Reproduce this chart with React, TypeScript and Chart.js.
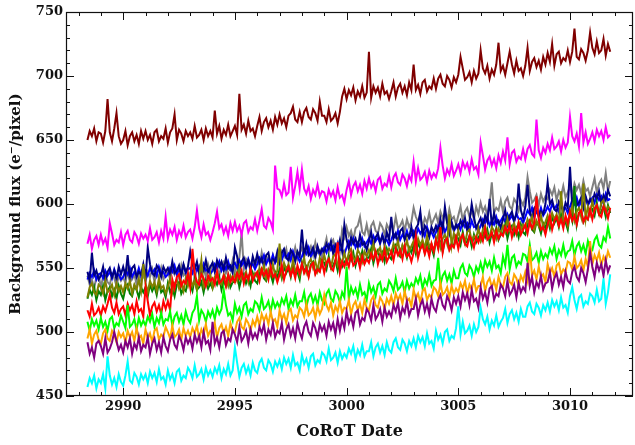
import React, { useEffect, useRef } from "react";
import { Chart, registerables } from "chart.js";

Chart.register(...registerables);

// Observation times (CoRoT date), one sample every 0.1 d
const DATES = [
  2988.4, 2988.5, 2988.6, 2988.7, 2988.8, 2988.9,
  2989.0, 2989.1, 2989.2, 2989.3, 2989.4, 2989.5, 2989.6, 2989.7, 2989.8, 2989.9,
  2990.0, 2990.1, 2990.2, 2990.3, 2990.4, 2990.5, 2990.6, 2990.7, 2990.8, 2990.9,
  2991.0, 2991.1, 2991.2, 2991.3, 2991.4, 2991.5, 2991.6, 2991.7, 2991.8, 2991.9,
  2992.0, 2992.1, 2992.2, 2992.3, 2992.4, 2992.5, 2992.6, 2992.7, 2992.8, 2992.9,
  2993.0, 2993.1, 2993.2, 2993.3, 2993.4, 2993.5, 2993.6, 2993.7, 2993.8, 2993.9,
  2994.0, 2994.1, 2994.2, 2994.3, 2994.4, 2994.5, 2994.6, 2994.7, 2994.8, 2994.9,
  2995.0, 2995.1, 2995.2, 2995.3, 2995.4, 2995.5, 2995.6, 2995.7, 2995.8, 2995.9,
  2996.0, 2996.1, 2996.2, 2996.3, 2996.4, 2996.5, 2996.6, 2996.7, 2996.8, 2996.9,
  2997.0, 2997.1, 2997.2, 2997.3, 2997.4, 2997.5, 2997.6, 2997.7, 2997.8, 2997.9,
  2998.0, 2998.1, 2998.2, 2998.3, 2998.4, 2998.5, 2998.6, 2998.7, 2998.8, 2998.9,
  2999.0, 2999.1, 2999.2, 2999.3, 2999.4, 2999.5, 2999.6, 2999.7, 2999.8, 2999.9,
  3000.0, 3000.1, 3000.2, 3000.3, 3000.4, 3000.5, 3000.6, 3000.7, 3000.8, 3000.9,
  3001.0, 3001.1, 3001.2, 3001.3, 3001.4, 3001.5, 3001.6, 3001.7, 3001.8, 3001.9,
  3002.0, 3002.1, 3002.2, 3002.3, 3002.4, 3002.5, 3002.6, 3002.7, 3002.8, 3002.9,
  3003.0, 3003.1, 3003.2, 3003.3, 3003.4, 3003.5, 3003.6, 3003.7, 3003.8, 3003.9,
  3004.0, 3004.1, 3004.2, 3004.3, 3004.4, 3004.5, 3004.6, 3004.7, 3004.8, 3004.9,
  3005.0, 3005.1, 3005.2, 3005.3, 3005.4, 3005.5, 3005.6, 3005.7, 3005.8, 3005.9,
  3006.0, 3006.1, 3006.2, 3006.3, 3006.4, 3006.5, 3006.6, 3006.7, 3006.8, 3006.9,
  3007.0, 3007.1, 3007.2, 3007.3, 3007.4, 3007.5, 3007.6, 3007.7, 3007.8, 3007.9,
  3008.0, 3008.1, 3008.2, 3008.3, 3008.4, 3008.5, 3008.6, 3008.7, 3008.8, 3008.9,
  3009.0, 3009.1, 3009.2, 3009.3, 3009.4, 3009.5, 3009.6, 3009.7, 3009.8, 3009.9,
  3010.0, 3010.1, 3010.2, 3010.3, 3010.4, 3010.5, 3010.6, 3010.7, 3010.8, 3010.9,
  3011.0, 3011.1, 3011.2, 3011.3, 3011.4, 3011.5, 3011.6, 3011.7, 3011.8,
];

// Background flux per target (e-/pixel), one row per day
const FLUX_MAROON = [
  650, 657, 653, 659, 649, 656,
  655, 648, 657, 682, 656, 649, 659, 671, 653, 647,
  650, 657, 646, 653, 656, 649, 654, 647, 657, 651,
  657, 650, 654, 647, 656, 658, 649, 653, 651, 659,
  648, 656, 659, 670, 650, 658, 655, 649, 657, 653,
  656, 651, 661, 652, 654, 658, 650, 659, 653, 657,
  652, 673, 655, 661, 651, 658, 654, 662, 653, 657,
  661, 654, 686, 658, 662, 655, 665, 657, 659, 653,
  661, 668, 657, 664, 667, 660, 665, 658, 668, 662,
  670, 663, 667, 660, 669, 671, 676, 666, 664, 672,
  664, 672, 675, 668, 666, 674, 671, 665, 680, 669,
  669, 664, 674, 665, 667, 671, 663, 672, 684, 690,
  682, 689, 685, 691, 681, 688, 684, 692, 683, 687,
  719, 683, 692, 687, 691, 684, 694, 686, 688, 682,
  688, 695, 684, 691, 694, 687, 692, 685, 695, 689,
  709, 689, 693, 686, 695, 697, 688, 692, 690, 698,
  690, 698, 701, 694, 692, 700, 697, 691, 699, 695,
  701, 715, 706, 697, 699, 703, 695, 704, 698, 702,
  720, 706, 702, 708, 698, 705, 701, 709, 726, 704,
  708, 701, 710, 719, 709, 702, 712, 704, 706, 700,
  708, 722, 704, 711, 714, 707, 712, 705, 715, 709,
  718, 711, 725, 708, 717, 719, 710, 714, 712, 720,
  711, 719, 737, 715, 713, 721, 718, 712, 720, 734,
  722, 717, 727, 718, 720, 729, 716, 725, 719,
];

const FLUX_MAGENTA = [
  569, 576, 565, 572, 575, 568,
  576, 569, 573, 566, 585, 577, 568, 572, 570, 578,
  568, 576, 579, 572, 570, 578, 575, 569, 577, 573,
  576, 571, 581, 572, 574, 578, 570, 579, 573, 590,
  573, 580, 576, 582, 572, 579, 575, 583, 574, 578,
  580, 573, 582, 595, 581, 574, 584, 576, 578, 572,
  578, 585, 594, 581, 584, 577, 582, 575, 585, 579,
  586, 579, 583, 576, 585, 587, 578, 582, 580, 588,
  579, 587, 596, 583, 581, 589, 586, 580, 630, 612,
  611, 606, 616, 607, 609, 629, 605, 614, 625, 612,
  627, 612, 608, 614, 604, 611, 607, 615, 606, 610,
  609, 602, 611, 606, 610, 603, 613, 605, 607, 601,
  611, 618, 607, 614, 617, 610, 615, 608, 618, 612,
  620, 613, 617, 610, 619, 621, 612, 616, 614, 622,
  613, 621, 624, 617, 615, 623, 620, 614, 622, 618,
  633, 618, 628, 619, 621, 625, 617, 626, 620, 624,
  621, 628, 644, 630, 620, 627, 623, 631, 622, 626,
  631, 624, 633, 628, 632, 625, 635, 627, 629, 623,
  648, 638, 627, 634, 637, 630, 635, 628, 638, 632,
  641, 634, 652, 631, 640, 642, 633, 637, 635, 643,
  635, 643, 646, 639, 637, 666, 642, 636, 644, 640,
  647, 642, 652, 643, 645, 649, 641, 650, 644, 648,
  668, 653, 649, 655, 645, 671, 648, 656, 647, 651,
  656, 649, 658, 653, 657, 650, 660, 652, 654,
];

const FLUX_CYAN = [
  457, 464, 460, 466, 456, 463,
  460, 467, 456, 481, 466, 459, 464, 457, 467, 461,
  458, 466, 477, 462, 460, 468, 465, 459, 467, 463,
  467, 460, 469, 464, 468, 461, 471, 463, 465, 459,
  470, 463, 467, 460, 469, 471, 462, 466, 464, 472,
  469, 464, 474, 465, 467, 471, 463, 472, 466, 470,
  465, 472, 468, 474, 464, 471, 467, 475, 466, 470,
  488, 476, 465, 472, 475, 468, 473, 466, 476, 470,
  468, 476, 479, 472, 470, 478, 475, 469, 477, 473,
  478, 471, 480, 475, 479, 472, 482, 474, 476, 470,
  482, 475, 479, 472, 481, 483, 474, 478, 476, 484,
  482, 477, 487, 478, 480, 484, 476, 485, 479, 483,
  480, 487, 483, 489, 479, 486, 482, 490, 481, 485,
  485, 492, 481, 488, 491, 484, 489, 482, 492, 486,
  484, 492, 495, 488, 486, 494, 491, 485, 493, 489,
  495, 488, 497, 492, 496, 489, 499, 491, 493, 487,
  501, 494, 498, 491, 500, 502, 493, 497, 495, 503,
  520, 498, 508, 499, 501, 505, 497, 506, 500, 504,
  519, 510, 506, 512, 502, 509, 505, 513, 504, 508,
  511, 518, 507, 514, 517, 510, 515, 508, 518, 512,
  512, 520, 523, 516, 514, 522, 519, 513, 521, 517,
  523, 516, 525, 520, 524, 517, 527, 519, 521, 515,
  528, 535, 525, 518, 527, 529, 520, 524, 522, 530,
  528, 523, 533, 524, 526, 542, 522, 531, 545,
];

const FLUX_PURPLE = [
  492, 483, 488, 480, 491, 493,
  489, 483, 495, 484, 487, 492, 500, 493, 486, 490,
  484, 493, 488, 495, 483, 491, 487, 496, 485, 490,
  488, 496, 483, 491, 495, 486, 492, 484, 496, 489,
  485, 494, 498, 490, 487, 497, 493, 486, 496, 491,
  495, 487, 498, 492, 497, 488, 500, 491, 493, 486,
  508, 491, 496, 488, 499, 501, 490, 495, 493, 502,
  498, 492, 504, 493, 496, 501, 491, 502, 495, 499,
  495, 504, 499, 506, 494, 502, 498, 507, 496, 501,
  499, 507, 494, 502, 506, 497, 503, 495, 507, 500,
  495, 504, 508, 500, 497, 507, 503, 496, 506, 501,
  505, 497, 508, 502, 507, 498, 510, 501, 510, 503,
  516, 507, 512, 504, 515, 517, 506, 511, 509, 518,
  515, 509, 521, 510, 513, 518, 508, 519, 512, 516,
  512, 521, 516, 523, 511, 519, 515, 524, 513, 518,
  518, 526, 513, 521, 525, 516, 522, 514, 526, 519,
  516, 525, 529, 521, 518, 528, 524, 517, 527, 522,
  528, 520, 531, 525, 530, 521, 533, 524, 526, 519,
  535, 526, 531, 523, 534, 536, 525, 530, 528, 537,
  534, 528, 540, 529, 532, 537, 527, 538, 531, 535,
  532, 554, 536, 543, 531, 539, 535, 544, 533, 538,
  539, 547, 534, 542, 546, 537, 543, 535, 547, 540,
  538, 547, 551, 543, 540, 550, 546, 539, 549, 562,
  551, 543, 554, 548, 553, 544, 556, 547, 552,
];

const FLUX_ORANGE = [
  495, 502, 491, 498, 501, 494,
  491, 499, 502, 495, 493, 501, 498, 492, 500, 496,
  499, 492, 501, 496, 500, 493, 503, 495, 497, 491,
  502, 495, 499, 492, 501, 503, 494, 498, 496, 504,
  500, 495, 505, 496, 498, 502, 494, 503, 497, 501,
  496, 503, 499, 505, 495, 502, 498, 506, 497, 501,
  500, 507, 496, 503, 506, 499, 504, 497, 507, 501,
  500, 508, 511, 504, 502, 510, 507, 501, 509, 505,
  512, 505, 514, 509, 513, 506, 516, 508, 510, 504,
  517, 510, 514, 507, 516, 518, 509, 513, 511, 519,
  517, 512, 522, 513, 515, 519, 511, 520, 514, 518,
  529, 521, 517, 523, 513, 520, 516, 524, 515, 519,
  518, 525, 514, 521, 524, 517, 522, 515, 525, 519,
  517, 525, 528, 521, 519, 527, 524, 518, 526, 522,
  528, 521, 530, 525, 529, 522, 532, 524, 526, 520,
  533, 526, 530, 523, 532, 534, 525, 529, 527, 535,
  533, 528, 538, 529, 531, 535, 527, 536, 530, 534,
  531, 538, 534, 540, 530, 537, 533, 541, 532, 536,
  536, 543, 532, 539, 542, 535, 540, 533, 543, 537,
  535, 543, 546, 539, 537, 545, 542, 536, 544, 540,
  547, 540, 567, 544, 548, 541, 551, 543, 545, 539,
  553, 546, 550, 543, 552, 554, 545, 549, 547, 555,
  554, 549, 559, 550, 552, 556, 548, 557, 551, 571,
  553, 560, 556, 562, 552, 559, 555, 563, 558,
];

const FLUX_LIME = [
  508, 501, 510, 505, 509, 502,
  511, 504, 508, 501, 510, 512, 503, 507, 505, 513,
  508, 503, 521, 504, 506, 510, 502, 511, 505, 509,
  505, 512, 508, 514, 504, 511, 507, 515, 506, 510,
  509, 516, 505, 512, 515, 508, 513, 506, 516, 510,
  507, 515, 518, 528, 509, 517, 514, 508, 516, 512,
  517, 510, 519, 514, 518, 533, 521, 513, 515, 509,
  522, 515, 519, 512, 521, 523, 514, 518, 516, 524,
  522, 517, 527, 518, 520, 524, 516, 525, 519, 523,
  519, 526, 522, 528, 518, 525, 521, 529, 520, 524,
  524, 531, 520, 527, 530, 523, 528, 521, 531, 525,
  522, 530, 533, 526, 524, 532, 529, 523, 531, 527,
  551, 526, 535, 530, 534, 527, 537, 529, 531, 525,
  538, 531, 535, 528, 537, 539, 530, 534, 532, 540,
  537, 532, 542, 533, 535, 539, 531, 540, 534, 538,
  535, 542, 538, 544, 534, 541, 537, 545, 536, 540,
  541, 558, 537, 544, 547, 540, 545, 538, 548, 542,
  542, 550, 553, 546, 544, 552, 549, 543, 551, 547,
  554, 547, 556, 551, 555, 548, 558, 550, 552, 546,
  559, 552, 568, 549, 558, 560, 551, 555, 553, 561,
  560, 555, 568, 556, 558, 562, 554, 563, 557, 561,
  558, 565, 561, 567, 557, 564, 560, 568, 559, 563,
  564, 571, 560, 567, 570, 563, 568, 561, 571, 565,
  564, 572, 575, 568, 566, 574, 571, 582, 573,
];

const FLUX_RED = [
  517, 512, 522, 513, 515, 519,
  513, 520, 516, 522, 529, 519, 515, 523, 514, 518,
  520, 513, 522, 517, 521, 514, 524, 516, 518, 512,
  535, 524, 513, 520, 523, 516, 521, 514, 524, 518,
  524, 517, 541, 534, 543, 545, 536, 540, 538, 546,
  535, 565, 546, 539, 537, 545, 542, 536, 544, 540,
  542, 537, 547, 538, 540, 544, 536, 545, 539, 543,
  539, 546, 542, 548, 538, 545, 541, 549, 540, 544,
  547, 540, 549, 544, 548, 541, 551, 543, 545, 539,
  545, 552, 541, 548, 551, 544, 549, 542, 552, 546,
  553, 546, 550, 543, 552, 554, 545, 549, 547, 555,
  546, 554, 557, 550, 548, 556, 570, 547, 555, 551,
  556, 551, 561, 552, 554, 558, 550, 559, 553, 557,
  554, 561, 557, 563, 553, 560, 556, 564, 555, 559,
  563, 556, 565, 560, 564, 557, 567, 559, 561, 555,
  562, 575, 558, 565, 568, 561, 566, 559, 569, 563,
  572, 565, 582, 562, 571, 573, 564, 568, 566, 574,
  565, 573, 576, 569, 567, 575, 572, 566, 574, 570,
  576, 571, 581, 572, 574, 578, 570, 579, 573, 577,
  575, 582, 578, 584, 574, 581, 577, 585, 576, 580,
  584, 577, 586, 581, 585, 606, 588, 580, 582, 576,
  584, 591, 580, 587, 590, 583, 588, 581, 591, 585,
  594, 587, 591, 584, 593, 595, 586, 590, 588, 596,
  588, 596, 599, 592, 590, 598, 595, 589, 597,
];

const FLUX_OLIVE = [
  527, 535, 538, 531, 529, 537,
  535, 530, 540, 531, 533, 537, 529, 538, 532, 536,
  531, 538, 534, 540, 530, 537, 533, 541, 532, 553,
  538, 531, 540, 535, 539, 532, 542, 534, 536, 530,
  535, 542, 531, 538, 541, 534, 539, 532, 542, 536,
  543, 536, 540, 533, 542, 556, 535, 539, 537, 545,
  535, 543, 546, 539, 537, 545, 542, 536, 544, 540,
  545, 540, 550, 541, 543, 547, 539, 548, 542, 546,
  543, 550, 546, 552, 542, 549, 545, 553, 544, 548,
  569, 545, 554, 549, 553, 546, 556, 548, 550, 544,
  551, 558, 547, 554, 557, 550, 555, 548, 558, 552,
  560, 553, 557, 550, 559, 561, 552, 556, 554, 562,
  554, 562, 565, 558, 556, 564, 561, 555, 563, 559,
  564, 559, 569, 560, 562, 566, 558, 567, 561, 565,
  562, 569, 565, 571, 561, 568, 564, 572, 563, 567,
  571, 564, 573, 568, 572, 565, 575, 567, 569, 563,
  570, 577, 566, 573, 576, 569, 592, 567, 577, 571,
  579, 572, 576, 569, 578, 580, 571, 575, 573, 581,
  572, 580, 583, 576, 574, 582, 579, 573, 581, 577,
  583, 578, 588, 579, 581, 585, 577, 586, 580, 584,
  581, 588, 584, 590, 580, 587, 583, 591, 582, 586,
  591, 584, 593, 588, 592, 585, 610, 587, 589, 583,
  591, 598, 587, 594, 597, 590, 616, 588, 598, 592,
  602, 595, 599, 592, 601, 603, 594, 598, 596,
];

const FLUX_GREEN = [
  526, 533, 529, 535, 525, 532,
  529, 536, 525, 532, 535, 528, 533, 526, 536, 530,
  526, 534, 537, 530, 528, 536, 533, 527, 535, 531,
  535, 528, 537, 532, 536, 529, 539, 531, 533, 527,
  538, 531, 535, 528, 537, 539, 530, 534, 532, 540,
  537, 532, 542, 533, 535, 539, 531, 540, 534, 538,
  534, 541, 537, 543, 533, 540, 536, 544, 535, 539,
  539, 546, 535, 542, 545, 538, 543, 536, 546, 540,
  538, 546, 549, 542, 540, 548, 545, 539, 547, 543,
  549, 542, 551, 546, 550, 543, 553, 545, 547, 541,
  554, 547, 551, 544, 553, 555, 546, 550, 548, 556,
  554, 549, 559, 550, 552, 556, 548, 557, 551, 555,
  553, 560, 556, 562, 552, 559, 555, 563, 554, 558,
  558, 565, 554, 561, 564, 557, 562, 555, 565, 559,
  557, 565, 568, 561, 559, 567, 564, 558, 566, 562,
  568, 561, 570, 565, 569, 562, 572, 564, 566, 560,
  573, 566, 570, 563, 572, 574, 565, 569, 567, 575,
  573, 568, 578, 569, 571, 575, 567, 576, 570, 574,
  571, 578, 574, 580, 570, 577, 573, 581, 572, 576,
  577, 584, 573, 580, 583, 576, 581, 574, 584, 578,
  576, 584, 587, 580, 578, 586, 583, 577, 585, 581,
  588, 581, 590, 585, 589, 582, 592, 584, 586, 580,
  594, 587, 614, 584, 593, 595, 586, 590, 588, 596,
  596, 591, 601, 592, 594, 598, 590, 599, 593,
];

const FLUX_NAVY = [
  547, 540, 562, 544, 548, 541,
  544, 551, 540, 547, 550, 543, 548, 541, 551, 545,
  551, 544, 560, 541, 550, 552, 543, 547, 545, 553,
  542, 566, 553, 546, 544, 552, 549, 543, 551, 547,
  550, 545, 555, 546, 548, 552, 544, 553, 547, 551,
  563, 553, 549, 555, 545, 552, 548, 556, 547, 551,
  554, 547, 556, 551, 555, 548, 558, 550, 552, 546,
  566, 559, 548, 555, 558, 551, 556, 549, 559, 553,
  561, 554, 558, 551, 560, 562, 553, 557, 555, 563,
  554, 562, 565, 558, 556, 564, 561, 555, 563, 559,
  580, 559, 569, 560, 562, 566, 558, 567, 561, 565,
  562, 569, 565, 571, 561, 568, 564, 572, 563, 584,
  572, 565, 574, 569, 573, 566, 576, 568, 570, 564,
  571, 578, 567, 574, 577, 570, 575, 568, 578, 572,
  590, 573, 577, 570, 579, 581, 572, 576, 574, 582,
  573, 581, 584, 594, 575, 583, 580, 574, 582, 578,
  583, 578, 588, 579, 598, 585, 577, 586, 580, 584,
  580, 587, 583, 589, 579, 586, 600, 590, 581, 585,
  589, 582, 591, 586, 604, 583, 593, 585, 587, 581,
  588, 595, 584, 591, 594, 587, 592, 616, 595, 589,
  598, 615, 595, 588, 597, 599, 590, 594, 592, 600,
  617, 600, 603, 596, 594, 602, 599, 593, 601, 597,
  629, 598, 608, 599, 601, 605, 597, 606, 600, 604,
  601, 608, 604, 610, 600, 607, 603, 611, 606,
];

const FLUX_BLUE = [
  541, 546, 543, 548, 541, 545,
  546, 542, 548, 544, 547, 542, 549, 544, 545, 541,
  543, 548, 545, 550, 543, 547, 544, 550, 544, 547,
  548, 544, 550, 546, 549, 544, 551, 546, 547, 543,
  545, 550, 547, 552, 545, 549, 546, 552, 546, 549,
  550, 546, 552, 548, 551, 546, 553, 548, 549, 545,
  548, 553, 550, 555, 548, 552, 549, 555, 549, 552,
  554, 550, 556, 552, 555, 550, 557, 552, 553, 549,
  553, 558, 555, 560, 553, 557, 554, 560, 554, 557,
  560, 556, 562, 558, 561, 556, 563, 558, 559, 555,
  559, 564, 561, 566, 559, 563, 560, 566, 560, 563,
  566, 562, 568, 564, 567, 562, 569, 564, 565, 561,
  566, 571, 568, 573, 566, 570, 567, 573, 567, 570,
  573, 569, 575, 571, 574, 569, 576, 571, 572, 568,
  572, 577, 574, 579, 572, 576, 573, 579, 573, 576,
  579, 575, 581, 577, 580, 575, 582, 577, 578, 574,
  578, 583, 580, 585, 578, 582, 579, 585, 579, 582,
  584, 580, 586, 582, 585, 580, 587, 582, 583, 579,
  583, 588, 585, 590, 583, 587, 584, 590, 584, 587,
  590, 586, 592, 588, 591, 586, 593, 588, 589, 585,
  590, 595, 592, 597, 590, 594, 591, 597, 591, 594,
  598, 594, 600, 596, 599, 594, 601, 596, 597, 593,
  598, 603, 600, 605, 598, 602, 599, 605, 599, 602,
  605, 601, 607, 603, 606, 601, 608, 603, 604,
];

const FLUX_GRAY = [
  544, 537, 541, 534, 543, 545,
  535, 543, 546, 539, 537, 545, 542, 536, 544, 540,
  543, 538, 548, 539, 541, 545, 537, 546, 540, 544,
  540, 547, 543, 549, 539, 546, 542, 550, 541, 545,
  548, 541, 550, 545, 549, 542, 552, 544, 546, 540,
  546, 553, 542, 549, 552, 545, 550, 543, 553, 547,
  554, 547, 551, 544, 553, 555, 546, 550, 548, 556,
  547, 555, 558, 578, 549, 557, 554, 548, 556, 552,
  557, 552, 562, 553, 555, 559, 551, 560, 554, 558,
  556, 563, 559, 565, 555, 562, 558, 566, 557, 561,
  566, 559, 568, 563, 567, 560, 570, 562, 564, 558,
  566, 573, 562, 569, 572, 565, 570, 563, 580, 574,
  582, 575, 579, 572, 581, 583, 590, 578, 576, 584,
  575, 583, 586, 579, 577, 585, 582, 576, 584, 580,
  585, 580, 590, 581, 583, 587, 579, 588, 582, 586,
  597, 590, 586, 592, 582, 589, 585, 593, 584, 588,
  592, 585, 594, 589, 593, 586, 596, 588, 590, 584,
  591, 598, 587, 594, 597, 590, 595, 588, 598, 592,
  601, 594, 598, 591, 600, 617, 593, 597, 595, 603,
  594, 602, 605, 598, 596, 604, 601, 595, 603, 599,
  605, 621, 610, 601, 603, 607, 599, 608, 602, 606,
  604, 611, 607, 613, 603, 610, 606, 614, 605, 609,
  614, 607, 616, 611, 615, 608, 618, 610, 612, 606,
  613, 620, 609, 616, 619, 612, 624, 610, 618,
];

// Listed top-most first (Chart.js draws the first dataset on top)
const SERIES = [
  { name: "Maroon", color: "#800000", values: FLUX_MAROON },
  { name: "Magenta", color: "#ff00ff", values: FLUX_MAGENTA },
  { name: "Cyan", color: "#00ffff", values: FLUX_CYAN },
  { name: "Purple", color: "#800080", values: FLUX_PURPLE },
  { name: "Orange", color: "#ffa500", values: FLUX_ORANGE },
  { name: "Lime", color: "#00ff00", values: FLUX_LIME },
  { name: "Red", color: "#ff0000", values: FLUX_RED },
  { name: "Olive", color: "#808000", values: FLUX_OLIVE },
  { name: "Green", color: "#008000", values: FLUX_GREEN },
  { name: "Navy", color: "#000080", values: FLUX_NAVY },
  { name: "Blue", color: "#0000ff", values: FLUX_BLUE },
  { name: "Gray", color: "#808080", values: FLUX_GRAY },
];

const X_TICKS = [2990, 2995, 3000, 3005, 3010];
const Y_TICKS = [450, 500, 550, 600, 650, 700, 750];
const X_RANGE = [2987.44, 3012.82];
const Y_RANGE = [450, 750];

const FONT = "'DejaVu Serif', serif";
const INK = "#111111";

// Closed frame with inward major/minor ticks on all four sides
const framePlugin = {
  id: "frame",
  afterDatasetsDraw(chart: any) {
    const { ctx, chartArea, scales } = chart;
    const { left, right, top, bottom } = chartArea;
    const xs = scales.x;
    const ys = scales.y;
    ctx.save();
    ctx.strokeStyle = INK;
    ctx.lineWidth = 1.2;
    ctx.strokeRect(left + 0.5, top + 0.5, right - left - 1, bottom - top - 1);
    ctx.lineWidth = 1;
    ctx.beginPath();
    for (let v = Math.ceil(xs.min); v <= xs.max; v += 1) {
      const px = Math.round(xs.getPixelForValue(v)) + 0.5;
      const len = v % 5 === 0 ? 8 : 4;
      ctx.moveTo(px, bottom);
      ctx.lineTo(px, bottom - len);
      ctx.moveTo(px, top);
      ctx.lineTo(px, top + len);
    }
    for (let v = ys.min; v <= ys.max; v += 10) {
      const py = Math.round(ys.getPixelForValue(v)) + 0.5;
      const len = v % 50 === 0 ? 8 : 4;
      ctx.moveTo(left, py);
      ctx.lineTo(left + len, py);
      ctx.moveTo(right, py);
      ctx.lineTo(right - len, py);
    }
    ctx.stroke();
    ctx.restore();
  },
};

export default function App() {
  const canvasRef = useRef<HTMLCanvasElement | null>(null);

  useEffect(() => {
    document.body.style.margin = "0";
    const canvas = canvasRef.current;
    if (!canvas) return;

    const datasets = SERIES.map((s) => ({
      label: s.name,
      data: s.values.map((v, i) => ({ x: DATES[i], y: v })),
      borderColor: s.color,
      backgroundColor: s.color,
      borderWidth: 2,
      pointRadius: 0,
      tension: 0,
      fill: false,
    }));

    const chart = new Chart(canvas, {
      type: "line",
      data: { datasets },
      plugins: [framePlugin],
      options: {
        animation: false,
        responsive: false,
        maintainAspectRatio: false,
        layout: { padding: { top: 12, right: 2, left: 0, bottom: 0 } },
        plugins: {
          legend: { display: false },
          tooltip: { enabled: false },
        },
        scales: {
          x: {
            type: "linear",
            min: X_RANGE[0],
            max: X_RANGE[1],
            grid: { display: false, drawTicks: false },
            border: { display: false },
            afterBuildTicks: (scale: any) => {
              scale.ticks = X_TICKS.map((value) => ({ value }));
            },
            afterFit: (scale: any) => {
              scale.height = 49;
            },
            ticks: {
              autoSkip: false,
              maxRotation: 0,
              padding: 3,
              color: INK,
              font: { family: FONT, weight: "bold", size: 13 },
              callback: (v: any) => String(v),
            },
            title: {
              display: true,
              text: "CoRoT Date",
              color: INK,
              font: { family: FONT, weight: "bold", size: 16 },
              padding: { top: 0, bottom: 4 },
            },
          },
          y: {
            type: "linear",
            min: Y_RANGE[0],
            max: Y_RANGE[1],
            grid: { display: false, drawTicks: false },
            border: { display: false },
            afterBuildTicks: (scale: any) => {
              scale.ticks = Y_TICKS.map((value) => ({ value }));
            },
            afterFit: (scale: any) => {
              scale.width = 66;
            },
            ticks: {
              autoSkip: false,
              padding: 3,
              color: INK,
              font: { family: FONT, weight: "bold", size: 13 },
              callback: (v: any) => String(v),
            },
            title: {
              display: true,
              text: "Background flux (e\u207B/pixel)",
              color: INK,
              font: { family: FONT, weight: "bold", size: 15 },
              padding: { top: 7, bottom: 0 },
            },
          },
        },
      },
    });

    return () => chart.destroy();
  }, []);

  return (
    <div style={{ width: 635, height: 445 }}>
      <canvas ref={canvasRef} width={635} height={445} style={{ display: "block" }} />
    </div>
  );
}
